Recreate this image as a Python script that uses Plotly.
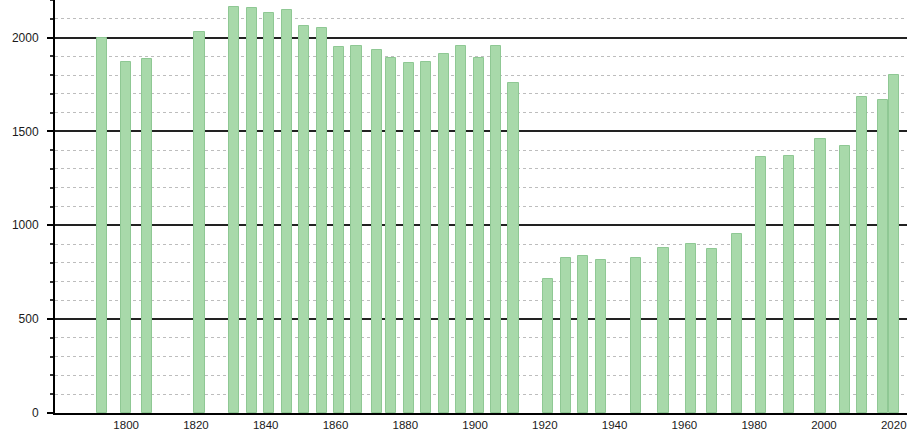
import plotly.graph_objects as go

years = [1793, 1800, 1806, 1821, 1831, 1836, 1841, 1846, 1851, 1856,
         1861, 1866, 1872, 1876, 1881, 1886, 1891, 1896, 1901, 1906,
         1911, 1921, 1926, 1931, 1936, 1946, 1954, 1962, 1968, 1975,
         1982, 1990, 1999, 2006, 2011, 2017, 2020]
population = [2000, 1870, 1885, 2032, 2165, 2160, 2130, 2145, 2060, 2053,
              1948, 1954, 1934, 1892, 1863, 1869, 1913, 1954, 1892, 1954,
              1757, 713, 826, 837, 814, 826, 879, 899, 871, 956,
              1363, 1369, 1461, 1420, 1682, 1670, 1798]
x_ticks = [1800, 1820, 1840, 1860, 1880, 1900, 1920, 1940, 1960, 1980, 2000, 2020]
y_ticks = [0, 500, 1000, 1500, 2000]

fig = go.Figure()
fig.add_trace(go.Bar(
    x=years, y=population, width=2.9,
    marker=dict(color="#a8d9aa", line=dict(color="#8fc894", width=1)),
    hoverinfo="x+y",
))

fig.update_layout(
    width=909, height=430,
    margin=dict(l=55, r=2, t=0, b=17),
    paper_bgcolor="white", plot_bgcolor="white",
    showlegend=False,
    bargap=0,
    font=dict(family="Liberation Sans, Arial, sans-serif", size=12, color="#1a1a1a"),
    xaxis=dict(
        range=[1779.6, 2023.8],
        tickmode="array", tickvals=x_ticks,
        ticktext=[str(t) for t in x_ticks],
        showgrid=False, zeroline=False,
        showline=True, linecolor="black", linewidth=2,
        ticks="", ticklabelstandoff=0,
        tickfont=dict(size=11.5),
    ),
    yaxis=dict(
        range=[0, 2200],
        tickmode="array", tickvals=y_ticks,
        ticktext=[str(t) for t in y_ticks],
        showgrid=True, gridcolor="#222", gridwidth=1.6,
        zeroline=False,
        showline=True, linecolor="black", linewidth=2,
        ticks="outside", ticklen=6, tickcolor="black", tickwidth=1.5,
        ticklabelstandoff=6,
        minor=dict(dtick=100, showgrid=True, gridcolor="#bdbdbd",
                   griddash="dot", gridwidth=1,
                   ticks="outside", ticklen=3, tickcolor="#333"),
    ),
)

fig.write_html("out.html",
               config={"displayModeBar": False},
               post_script="document.body.style.margin='0';document.body.style.overflow='hidden';")
